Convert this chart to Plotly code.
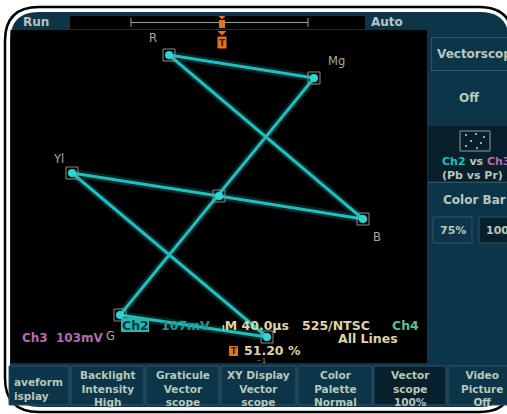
import plotly.graph_objects as go

W, H = 507, 414

# Colour-bar vectors (Pb, Pr) in mV, traced white -> Yl -> Cy -> G -> Mg -> R -> B -> white
bars = ["W", "Yl", "Cy", "G", "Mg", "R", "B", "W"]
pb = [0, -294, 96, -198, 190, -100, 288, 0]
pr = [0, 46, -282, -238, 236, 282, -46, 0]

# vertices that carry a name on the graticule
target_names = ["R", "Mg", "Yl", "B", "G"]

# bottom soft-key menu
menu_labels = [
    ["aveform", "isplay"],
    ["Backlight", "Intensity", "High"],
    ["Graticule", "Vector", "scope"],
    ["XY Display", "Vector", "scope"],
    ["Color", "Palette", "Normal"],
    ["Vector", "scope", "100%"],
    ["Video", "Picture", "Off"],
]

NAVY = "#0c354a"
NAVY_DARK = "#081f2c"
EDGE = "#2c5668"
MENU_TXT = "#b9c8b8"
BEIGE = "#ddd4a6"
PURPLE = "#b46cb0"
CYAN = "#1fbfbf"
ORANGE = "#e2741e"
FONT = "DejaVu Sans"


def px(x):
    return x / W


def py(y):
    return 1 - y / H


def rrect(L, T, R, B, r):
    return (f"M {px(L + r)},{py(T)} L {px(R - r)},{py(T)} Q {px(R)},{py(T)} {px(R)},{py(T + r)} "
            f"L {px(R)},{py(B - r)} Q {px(R)},{py(B)} {px(R - r)},{py(B)} "
            f"L {px(L + r)},{py(B)} Q {px(L)},{py(B)} {px(L)},{py(B - r)} "
            f"L {px(L)},{py(T + r)} Q {px(L)},{py(T)} {px(L + r)},{py(T)} Z")


def rect(x0, y0, x1, y1, fill, line=None, lw=1):
    return dict(type="rect", xref="paper", yref="paper", x0=px(x0), x1=px(x1), y0=py(y1), y1=py(y0),
                fillcolor=fill, line=dict(color=line or fill, width=lw if line else 0), layer="below")


def hline(x0, x1, y, color=EDGE, w=1):
    return dict(type="line", xref="paper", yref="paper", x0=px(x0), x1=px(x1), y0=py(y), y1=py(y),
                line=dict(color=color, width=w), layer="below")


def vline(x, y0, y1, color=EDGE, w=1):
    return dict(type="line", xref="paper", yref="paper", x0=px(x), x1=px(x), y0=py(y0), y1=py(y1),
                line=dict(color=color, width=w), layer="below")


def path(d, fill, line=None, lw=0, layer="below"):
    return dict(type="path", xref="paper", yref="paper", path=d, fillcolor=fill,
                line=dict(color=line or fill, width=lw), layer=layer)


def poly(pts):
    return "M " + " L ".join(f"{px(a)},{py(b)}" for a, b in pts) + " Z"


def txt(t, x, y, color, size=12, anchor="left", bold=True, align=None):
    d = dict(text=f"<b>{t}</b>" if bold else t, x=px(x), y=py(y), xref="paper", yref="paper",
             xanchor=anchor, yanchor="middle", showarrow=False,
             font=dict(family=FONT, size=size, color=color))
    if align:
        d["align"] = align
    return d


shapes = []
anns = []

# bezel and screen
shapes.append(path(rrect(5, 7, 513, 412, 34), "white", "black", 2.5))
shapes.append(path(rrect(10, 12, 509, 407, 29), NAVY))

# top status bar
shapes.append(rect(70, 16, 365, 29, "black"))
shapes.append(hline(131, 308, 22.5, "#8fa898", 1))
shapes.append(vline(131, 18, 27, "#8fa898", 1))
shapes.append(vline(308, 18, 27, "#8fa898", 1))
# trigger position markers
shapes.append(path(poly([(218.5, 16), (225.5, 16), (222, 19.5)]), ORANGE, layer="above"))
shapes.append(rect(219, 20, 225, 28, ORANGE))
shapes.append(path(poly([(217.5, 31), (226.5, 31), (222, 35.5)]), ORANGE, layer="above"))
shapes.append(dict(rect(217.5, 36.5, 226.5, 48.5, ORANGE), layer="above"))
anns.append(txt("Run", 21, 22, "#b8c4be", 12))
anns.append(txt("Auto", 369, 22, "#b8c4be", 12))
anns.append(txt("T", 222, 43, "#3a1a08", 9, "center"))

# waveform display area
shapes.append(rect(10.5, 30, 427, 363, "black"))

# right-hand side menu
shapes.append(hline(431, 509, 37.5))
shapes.append(vline(431.5, 37, 70))
shapes.append(hline(431, 509, 70.5))
anns.append(txt("Vectorscope", 435, 54, MENU_TXT, 12))
anns.append(txt("Off", 469, 98, MENU_TXT, 12, "center"))
shapes.append(rect(428, 126, 509, 181, NAVY_DARK))
shapes.append(rect(460, 131, 490, 151, NAVY_DARK, "#8da0a0", 1))
for dx, dy in [(466, 135), (476, 134), (484, 137), (471, 141), (481, 143), (466, 146), (477, 148)]:
    shapes.append(dict(type="circle", xref="paper", yref="paper", x0=px(dx - 1), x1=px(dx + 1),
                       y0=py(dy + 1), y1=py(dy - 1), fillcolor="#c8d4d0", line=dict(width=0)))
anns.append(txt(f"<span style='color:{CYAN}'>Ch2</span> vs <span style='color:{PURPLE}'>Ch3</span>"
                "<br>(Pb vs Pr)", 440, 168.5, MENU_TXT, 11, align="left"))
shapes.append(hline(428, 509, 182.5))
anns.append(txt("Color Bar", 441, 200, MENU_TXT, 12))
shapes.append(rect(433, 217, 472, 243, NAVY, EDGE, 1))
shapes.append(rect(479, 217, 512, 243, NAVY_DARK, EDGE, 1))
anns.append(txt("75%", 452.5, 230, MENU_TXT, 11, "center"))
anns.append(txt("100%", 484, 230, MENU_TXT, 11))

# bottom soft keys
edges = [8, 70, 145, 220, 297, 373, 447, 512]
for i, lines in enumerate(menu_labels):
    x0, x1 = edges[i], edges[i + 1]
    fill = NAVY_DARK if lines[0] == "Vector" else NAVY
    shapes.append(rect(x0 + 1, 366, x1 - 1, 405, fill, EDGE, 1))
    cx = (x0 + x1) / 2 if i else 12
    anchor = "center" if i else "left"
    if i == len(menu_labels) - 1:
        cx = 482
    label = "<br>".join(f"<b>{t}</b>" for t in lines)
    anns.append(dict(text=label, x=px(cx), y=py(388.5), xref="paper", yref="paper",
                     xanchor=anchor, yanchor="middle", showarrow=False,
                     align="center" if i else "left",
                     font=dict(family=FONT, size=10.5, color=MENU_TXT)))

# readouts inside the display
anns.append(txt("Ch3", 20, 338, PURPLE, 12))
anns.append(txt("103mV", 54, 338, PURPLE, 12))
shapes.append(dict(rect(121, 318, 149, 332, "#27b6b4"), layer="above"))
anns.append(txt("Ch2", 135, 325, "#0e3a40", 12.5, "center"))
anns.append(txt("107mV", 159, 325, "#1f9d9c", 12.5))
anns.append(txt("ᵢM 40.0µs", 220, 325, BEIGE, 12.5))
anns.append(txt("525/NTSC", 300, 325, BEIGE, 12.5))
anns.append(txt("Ch4", 390, 325, "#5cc08a", 12.5))
anns.append(txt("All Lines", 336, 338, BEIGE, 12.5))
shapes.append(dict(rect(229, 346, 238, 356, ORANGE), layer="above"))
anns.append(txt("T", 233.5, 351, "#3a1a08", 8, "center"))
anns.append(txt("51.20 %", 242, 350, BEIGE, 12.5))
anns.append(txt("~1", 254, 361, "#a09a80", 7, bold=False))

fig = go.Figure()

# soft halo of the trace, then the trace itself
fig.add_trace(go.Scatter(x=pb, y=pr, mode="lines", line=dict(color=CYAN, width=8), opacity=0.2,
                         hoverinfo="skip", showlegend=False))
fig.add_trace(go.Scatter(x=pb, y=pr, mode="lines", line=dict(color=CYAN, width=3),
                         hoverinfo="skip", showlegend=False))
# graticule target boxes and bright dwell points
fig.add_trace(go.Scatter(x=pb[:-1], y=pr[:-1], mode="markers",
                         marker=dict(symbol="square-open", size=12, color="#8c8c84", line=dict(width=1)),
                         hoverinfo="skip", showlegend=False))
fig.add_trace(go.Scatter(x=pb[:-1], y=pr[:-1], mode="markers",
                         marker=dict(size=8, color="#2bd6d6"), text=bars[:-1],
                         hoverinfo="text", showlegend=False))

# names of the targets
offsets = {"R": (-16, 17), "Mg": (22, 17), "Yl": (-14, 14), "B": (14, -18), "G": (-10, -21)}
for name in target_names:
    k = bars.index(name)
    ox, oy = offsets[name]
    fig.add_annotation(x=pb[k], y=pr[k], xref="x", yref="y", text=name, showarrow=False,
                       xshift=ox, yshift=oy, font=dict(family=FONT, size=11.5, color="#a9a89c"))

for a in anns:
    fig.add_annotation(**a)

fig.update_layout(
    width=W, height=H, margin=dict(l=0, r=0, t=0, b=0),
    paper_bgcolor="white", plot_bgcolor="rgba(0,0,0,0)",
    shapes=shapes, showlegend=False,
    xaxis=dict(domain=[px(10.5), px(427)], range=[-417, 416], visible=False, fixedrange=True),
    yaxis=dict(domain=[py(363), py(30)], range=[-334, 332], visible=False, fixedrange=True),
)

fig.write_html("out.html")
